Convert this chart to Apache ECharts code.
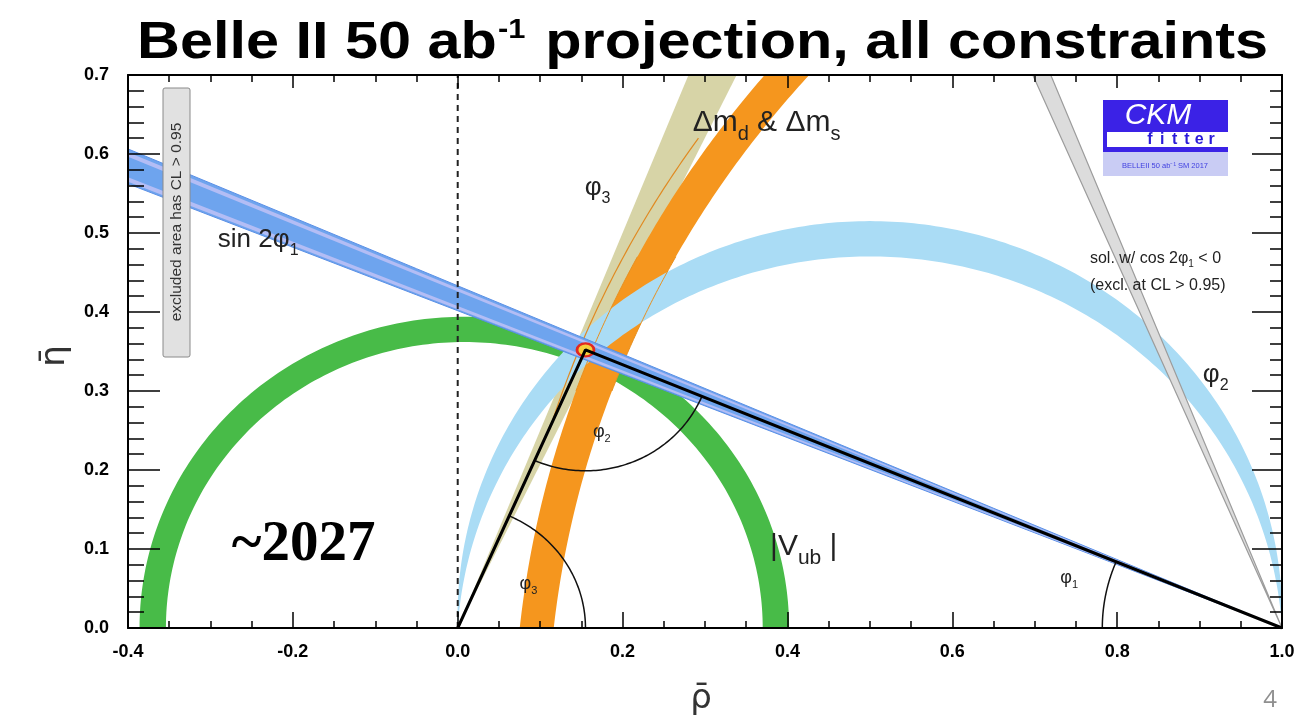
<!DOCTYPE html>
<html>
<head>
<meta charset="utf-8">
<script src="https://cdn.jsdelivr.net/npm/echarts@6/dist/echarts.min.js"></script>
<style>
  html, body { margin: 0; padding: 0; background: #ffffff; }
  #chart { width: 1299px; height: 720px; }
</style>
</head>
<body>
<div id="chart"></div>
<script>
// ---- axis ranges and tick steps ----
const RHO_RANGE = [-0.4, 1.0];
const ETA_RANGE = [0.0, 0.7];
const RHO_STEP = 0.2;
const ETA_STEP = 0.1;

// ---- unitarity triangle (rho-bar, eta-bar) ----
const triangle = [[0, 0], [0.155, 0.352], [1, 0]];
const apex = [0.155, 0.352];

// ---- constraint bands ----
const vubCenter = [0.008, 0];
const vubRadii = [0.362, 0.394];          // |Vub| ring
const dmCenter = [1.371, -0.137];
const dmRadii = [1.262, 1.303];           // Δm_d & Δm_s ring
const dmContour = { radius: 1.318, eta: [0.25, 0.62] };
const phi2Range = [88.3, 93.5];           // φ2 (deg): circles through (0,0) and (1,0)
const phi3Range = [64.2, 68.2];           // φ3 (deg): wedge from (0,0)
const sin2phi1Band = [21.88, 23.42];      // φ1 (deg): wedge from (1,0)
const sin2phi1Stripes = [[21.97, 22.17], [23.08, 23.28]];
const sin2phi1Alt = [66.64, 68.16];       // cos 2φ1 < 0 solution

// ---- angle arcs (radius in rho units) ----
const arcRadius = { phi1: 0.218, phi2: 0.153, phi3: 0.155 };

// ---- text annotations: parts = [text, isSubscript] ----
const annotations = [
  { parts: [['sin 2φ'], ['1', 1]], at: [-0.291, 0.491], size: 26 },
  { parts: [['Δm'], ['d', 1], [' & Δm'], ['s', 1]], at: [0.285, 0.640], size: 30, subScale: 0.68 },
  { parts: [['φ'], ['3', 1]], at: [0.154, 0.557], size: 26 },
  { parts: [['φ'], ['2', 1]], at: [0.904, 0.320], size: 26 },
  { parts: [['|V'], ['ub', 1], [' |']], at: [0.379, 0.103], size: 30, subScale: 0.7 },
  { parts: [['φ'], ['2', 1]], at: [0.164, 0.248], size: 18 },
  { parts: [['φ'], ['3', 1]], at: [0.075, 0.056], size: 18 },
  { parts: [['φ'], ['1', 1]], at: [0.731, 0.063], size: 18 },
  { parts: [['sol. w/ cos 2φ'], ['1', 1], [' < 0']], at: [0.767, 0.468], size: 16 },
  { parts: [['(excl. at CL > 0.95)']], at: [0.767, 0.434], size: 16 },
  { parts: [['~2027']], at: [-0.274, 0.105], size: 57, weight: 'bold',
    family: '"Liberation Serif", "DejaVu Serif", serif', color: '#000' }
];

const FONT = '"Liberation Sans", Arial, Helvetica, sans-serif';
const measureCtx = document.createElement('canvas').getContext('2d');
function textWidth(str, size, weight, family) {
  measureCtx.font = (weight || 'normal') + ' ' + size + 'px ' + (family || FONT);
  return measureCtx.measureText(str).width;
}

// ---- geometry helpers (all in data units) ----
const D = Math.PI / 180;
function steps(a, b, n) {
  const out = [];
  for (let i = 0; i <= n; i++) out.push(a + (b - a) * i / n);
  return out;
}
function upperRing(c, rIn, rOut) {
  const outer = steps(0, 180, 180).map(t => [c[0] + rOut * Math.cos(t * D), c[1] + rOut * Math.sin(t * D)]);
  const inner = steps(180, 0, 180).map(t => [c[0] + rIn * Math.cos(t * D), c[1] + rIn * Math.sin(t * D)]);
  return outer.concat(inner);
}
// left-hand arc of a circle (centre c, radius r) between two eta levels
function leftArc(c, r, eta0, eta1, n) {
  const t0 = Math.asin(Math.max(-1, Math.min(1, (eta0 - c[1]) / r)));
  const t1 = Math.asin(Math.max(-1, Math.min(1, (eta1 - c[1]) / r)));
  return steps(t0, t1, n).map(t => [c[0] - r * Math.cos(t), c[1] + r * Math.sin(t)]);
}
// circle of points seeing the base (0,0)-(1,0) under angle alpha
function alphaArc(alphaDeg, n) {
  const c = 0.5 / Math.tan(alphaDeg * D);
  const r = 0.5 / Math.sin(alphaDeg * D);
  let t0 = Math.atan2(-c, -0.5);
  if (t0 < 0) t0 += 2 * Math.PI;
  const t1 = Math.atan2(-c, 0.5);
  return steps(t0, t1, n).map(t => [0.5 + r * Math.cos(t), Math.max(0, c + r * Math.sin(t))]);
}
function angleArc(center, toA, toB, r, n) {
  const a = Math.atan2(toA[1] - center[1], toA[0] - center[0]);
  let b = Math.atan2(toB[1] - center[1], toB[0] - center[0]);
  if (b - a > Math.PI) b -= 2 * Math.PI;
  if (a - b > Math.PI) b += 2 * Math.PI;
  return steps(a, b, n).map(t => [center[0] + r * Math.cos(t), center[1] + r * Math.sin(t)]);
}
// wedge from (1,0) towards the left edge, angles measured from the -rho direction
function wedgeFromB(a0, a1) {
  const rhoMin = RHO_RANGE[0];
  return [[1, 0], [rhoMin, (1 - rhoMin) * Math.tan(a0 * D)], [rhoMin, (1 - rhoMin) * Math.tan(a1 * D)]];
}

function poly(api, pts, style) {
  return { type: 'polygon', shape: { points: pts.map(p => api.coord(p)) }, style: style };
}
function pline(api, pts, style) {
  return { type: 'polyline', shape: { points: pts.map(p => api.coord(p)) },
           style: Object.assign({ fill: null }, style) };
}
function shapeSeries(name, z, build) {
  return {
    type: 'custom', name: name, coordinateSystem: 'cartesian2d',
    xAxisIndex: 0, yAxisIndex: 0, data: [[0, 0]], clip: true, silent: true, z: z,
    renderItem: (params, api) => ({ type: 'group', children: build(api) })
  };
}

const etaMax = ETA_RANGE[1];

const series = [
  // |Vub|
  shapeSeries('Vub', 2, api => [
    poly(api, upperRing(vubCenter, vubRadii[0], vubRadii[1]), { fill: '#48bb48' })
  ]),
  // φ3 wedge
  shapeSeries('phi3', 2, api => [
    poly(api, [[0, 0],
               [etaMax / Math.tan(phi3Range[1] * D), etaMax],
               [etaMax / Math.tan(phi3Range[0] * D), etaMax]], { fill: '#d7d4a7' })
  ]),
  // Δm_d & Δm_s ring
  shapeSeries('dm', 2, api => [
    poly(api, leftArc(dmCenter, dmRadii[1], 0, etaMax, 120)
               .concat(leftArc(dmCenter, dmRadii[0], 0, etaMax, 120).reverse()), { fill: '#f5961e' })
  ]),
  // φ2 band
  shapeSeries('phi2', 2, api => [
    poly(api, alphaArc(phi2Range[0], 240).concat(alphaArc(phi2Range[1], 240).reverse()),
         { fill: '#aadcf5' })
  ]),
  // Δm contour lines
  shapeSeries('dmContour', 2, api => [
    pline(api, leftArc(dmCenter, dmContour.radius, dmContour.eta[0], dmContour.eta[1], 60),
          { stroke: '#e08a22', lineWidth: 1.2 }),
    pline(api, leftArc(dmCenter, dmRadii[1], 0.3, 0.47, 40), { stroke: '#e8901f', lineWidth: 1 }),
    pline(api, leftArc(dmCenter, dmRadii[0], 0.3, 0.47, 40), { stroke: '#e8901f', lineWidth: 1 })
  ]),
  // cos 2φ1 < 0 solution
  shapeSeries('sin2phi1Alt', 2, api => [
    poly(api, [[1, 0],
               [1 - etaMax / Math.tan(sin2phi1Alt[0] * D), etaMax],
               [1 - etaMax / Math.tan(sin2phi1Alt[1] * D), etaMax]],
         { fill: '#dcdcdc', stroke: '#9c9c9c', lineWidth: 1.2 })
  ]),
  // sin 2φ1 band
  shapeSeries('sin2phi1', 2, api => [
    poly(api, wedgeFromB(sin2phi1Band[0], sin2phi1Band[1]),
         { fill: '#6ea4ee', stroke: '#5a8fe6', lineWidth: 1 })
  ].concat(sin2phi1Stripes.map(s => poly(api, wedgeFromB(s[0], s[1]), { fill: '#b3bdf5' })))),
  // angle arcs
  shapeSeries('arcs', 4, api => [
    pline(api, angleArc(triangle[2], triangle[0], apex, arcRadius.phi1, 60), { stroke: '#111', lineWidth: 1.5 }),
    pline(api, angleArc(apex, triangle[0], triangle[2], arcRadius.phi2, 80), { stroke: '#111', lineWidth: 1.5 }),
    pline(api, angleArc(triangle[0], triangle[2], apex, arcRadius.phi3, 60), { stroke: '#111', lineWidth: 1.5 })
  ]),
  // rho = 0 guide
  {
    type: 'line', data: [[0, ETA_RANGE[0]], [0, ETA_RANGE[1]]], symbol: 'none', silent: true, z: 5,
    lineStyle: { color: '#222', width: 2, type: [6, 5] }
  },
  // apex
  {
    type: 'scatter', data: [apex], symbol: 'circle', symbolSize: [17, 13], silent: true, z: 5,
    itemStyle: { color: '#f6cf3c', borderColor: '#e2281f', borderWidth: 2.5, opacity: 1 }
  },
  // triangle sides
  {
    type: 'line', data: triangle, symbol: 'none', silent: true, z: 6,
    lineStyle: { color: '#000', width: 3 }
  },
  // text annotations
  {
    type: 'custom', coordinateSystem: 'cartesian2d', silent: true, z: 20, clip: false,
    data: annotations.map((a, i) => [a.at[0], a.at[1], i]),
    renderItem: (params, api) => {
      const a = annotations[api.value(2)];
      const p = api.coord([api.value(0), api.value(1)]);
      const children = [];
      let x = p[0];
      a.parts.forEach(part => {
        const sub = part[1] === 1;
        const size = sub ? Math.round(a.size * (a.subScale || 0.62)) : a.size;
        children.push({
          type: 'text', x: x, y: p[1] + (sub ? a.size * 0.4 : 0),
          style: {
            text: part[0], fontSize: size, fontFamily: a.family || FONT,
            fontWeight: a.weight || 'normal', fill: a.color || '#222',
            align: 'left', verticalAlign: 'middle'
          }
        });
        x += textWidth(part[0], size, a.weight, a.family);
      });
      return { type: 'group', children: children };
    }
  }
];

const axisLine = { show: true, onZero: false, lineStyle: { color: '#000', width: 2 } };
const tickStyle = { color: '#000', width: 1.5 };

const option = {
  animation: false,
  backgroundColor: '#ffffff',
  grid: { left: 128, right: 17, top: 75, bottom: 92 },
  xAxis: [
    {
      type: 'value', position: 'bottom', min: RHO_RANGE[0], max: RHO_RANGE[1], interval: RHO_STEP, z: 10,
      axisLine: axisLine,
      axisTick: { show: true, inside: true, length: 16, lineStyle: tickStyle },
      minorTick: { show: true, splitNumber: 4, length: 7, lineStyle: tickStyle },
      axisLabel: { color: '#000', fontSize: 18, fontWeight: 'bold', fontFamily: FONT, margin: 15,
                   formatter: v => v.toFixed(1) },
      splitLine: { show: false }
    },
    {
      type: 'value', position: 'top', min: RHO_RANGE[0], max: RHO_RANGE[1], interval: RHO_STEP, z: 10,
      axisLine: axisLine,
      axisTick: { show: true, inside: true, length: 13, lineStyle: tickStyle },
      minorTick: { show: true, splitNumber: 4, length: 7, lineStyle: tickStyle },
      axisLabel: { show: false }, splitLine: { show: false }
    }
  ],
  yAxis: [
    {
      type: 'value', position: 'left', min: ETA_RANGE[0], max: ETA_RANGE[1], interval: ETA_STEP, z: 10,
      axisLine: axisLine,
      axisTick: { show: true, inside: true, length: 32, lineStyle: tickStyle },
      minorTick: { show: true, splitNumber: 5, length: 16, lineStyle: tickStyle },
      axisLabel: { color: '#000', fontSize: 18, fontWeight: 'bold', fontFamily: FONT, margin: 19,
                   formatter: v => v.toFixed(1) },
      splitLine: { show: false }
    },
    {
      type: 'value', position: 'right', min: ETA_RANGE[0], max: ETA_RANGE[1], interval: ETA_STEP, z: 10,
      axisLine: axisLine,
      axisTick: { show: true, inside: true, length: 30, lineStyle: tickStyle },
      minorTick: { show: true, splitNumber: 5, length: 12, lineStyle: tickStyle },
      axisLabel: { show: false }, splitLine: { show: false }
    }
  ],
  series: series
};

// ---- title, axis names, logo, notes ----
const titleMain = 'Belle II 50 ab', titleSup = '-1', titleRest = ' projection, all constraints';
const TITLE_SIZE = 52, TITLE_SUP = 27;
const wMain = textWidth(titleMain, TITLE_SIZE, 'bold');
const wSup = textWidth(titleSup, TITLE_SUP, 'bold');
const wRest = textWidth(titleRest, TITLE_SIZE, 'bold');
const titleScale = 1131 / (wMain + wSup + 4 + wRest);

const TOP = 100;
const titleFont = { fontFamily: FONT, fontWeight: 'bold', fill: '#000', align: 'left', verticalAlign: 'middle' };
const fitterLetters = 'fitter'.split('');

option.graphic = [
  {
    type: 'group', x: 137, y: 0, scaleX: titleScale, z: TOP,
    children: [
      { type: 'text', x: 0, y: 44, z: TOP, style: Object.assign({ text: titleMain, fontSize: TITLE_SIZE }, titleFont) },
      { type: 'text', x: wMain + 1, y: 31, z: TOP, style: Object.assign({ text: titleSup, fontSize: TITLE_SUP }, titleFont) },
      { type: 'text', x: wMain + wSup + 4, y: 44, z: TOP, style: Object.assign({ text: titleRest, fontSize: TITLE_SIZE }, titleFont) }
    ]
  },
  // axis names
  { type: 'text', x: 701, y: 699, z: TOP,
    style: { text: 'ρ̄', fontSize: 34, fontFamily: '"DejaVu Sans", sans-serif', fill: '#333', align: 'center', verticalAlign: 'middle' } },
  { type: 'text', x: 55, y: 356, rotation: Math.PI / 2, z: TOP,
    style: { text: 'η̄', fontSize: 34, fontFamily: '"DejaVu Sans", sans-serif', fill: '#333', align: 'center', verticalAlign: 'middle' } },
  // page number
  { type: 'text', x: 1270, y: 700, z: TOP,
    style: { text: '4', fontSize: 24, fontFamily: '"Open Sans", sans-serif', fill: '#8f8f8f', align: 'center', verticalAlign: 'middle' } },
  // excluded-area note
  {
    type: 'group', x: 163, y: 88, z: TOP,
    children: [
      { type: 'rect', z: TOP, shape: { x: 0, y: 0, width: 27, height: 269, r: 2 },
        style: { fill: '#e1e1e1', stroke: '#8a8a8a', lineWidth: 1 } },
      { type: 'text', z: TOP + 1, x: 14, y: 134, rotation: Math.PI / 2,
        style: { text: 'excluded area has CL > 0.95', fontSize: 15.5, fontFamily: FONT, fill: '#333',
                 align: 'center', verticalAlign: 'middle' } }
    ]
  },
  // CKMfitter logo
  {
    type: 'group', x: 1103, y: 100, z: TOP,
    children: [
      { type: 'rect', z: TOP, shape: { x: 0, y: 0, width: 125, height: 52 }, style: { fill: '#3b22e6' } },
      { type: 'rect', z: TOP + 1, shape: { x: 4, y: 32, width: 121, height: 15 }, style: { fill: '#ffffff' } },
      { type: 'rect', z: TOP, shape: { x: 0, y: 52, width: 125, height: 24 }, style: { fill: '#c9ccf4' } },
      { type: 'text', z: TOP + 2, x: 55, y: 16, style: { text: 'CKM', fontSize: 30, fontStyle: 'italic', fontFamily: FONT,
          fill: '#ffffff', align: 'center', verticalAlign: 'middle' } },
      ...fitterLetters.map((ch, i) => ({
        type: 'text', z: TOP + 2, x: 47 + i * 12.3, y: 40,
        style: { text: ch, fontSize: 16, fontWeight: 'bold', fontFamily: FONT, fill: '#2a1ad8',
                 align: 'center', verticalAlign: 'middle' }
      })),
      { type: 'text', z: TOP + 2, x: 62, y: 66, style: { text: 'BELLEII 50 ab⁻¹ SM 2017', fontSize: 7.5, fontFamily: FONT,
          fill: '#4040e0', align: 'center', verticalAlign: 'middle' } }
    ]
  }
];

const chart = echarts.init(document.getElementById('chart'), null, { renderer: 'canvas' });
chart.setOption(option);
</script>
</body>
</html>
